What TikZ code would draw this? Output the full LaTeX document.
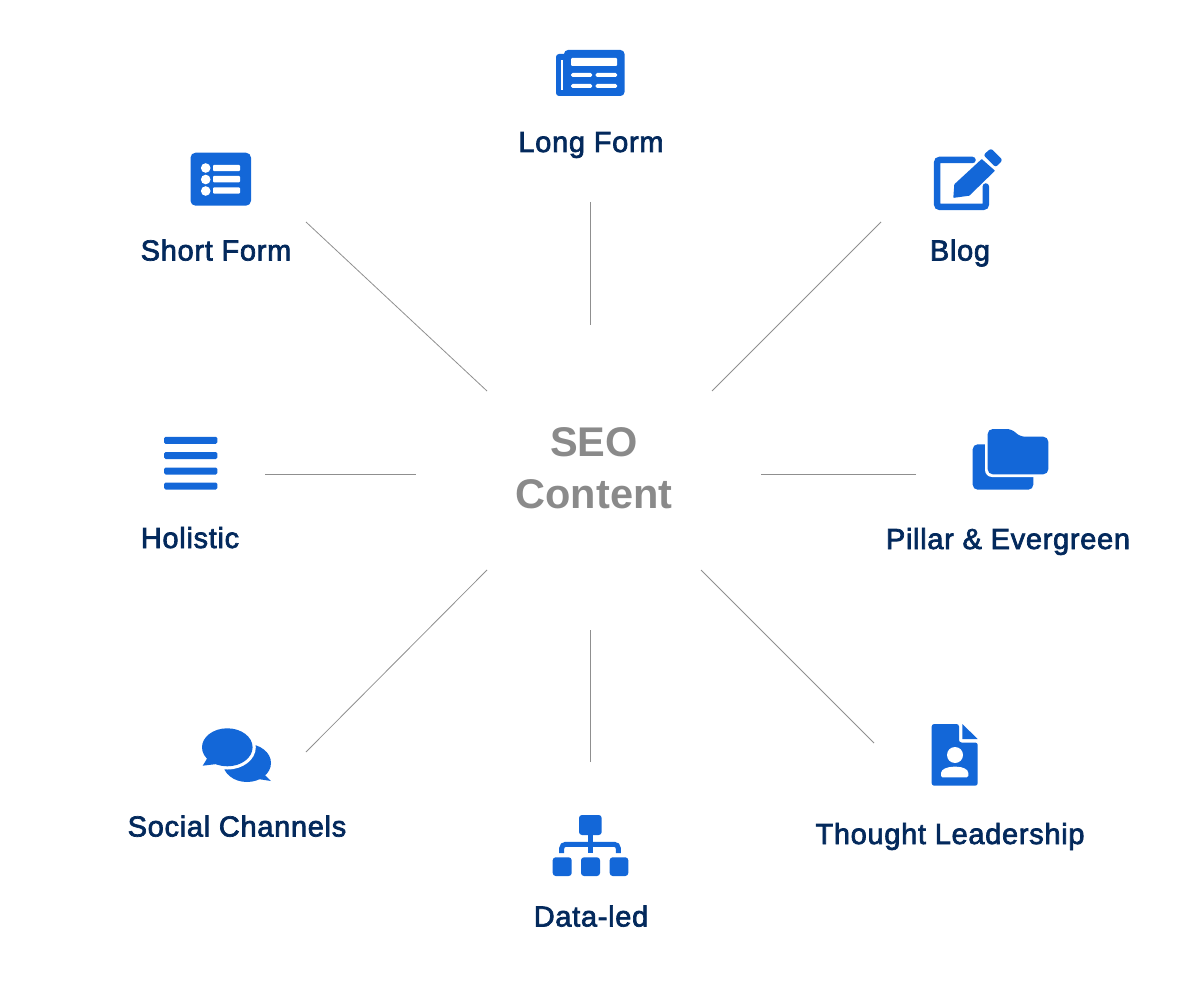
\documentclass[tikz,border=0pt]{standalone}
\usepackage{fontspec}
\setmainfont{Liberation Sans}
\newfontfamily\lblfont[FakeBold=2.4,LetterSpace=2.4]{Liberation Sans}
\newfontfamily\hubfont{Liberation Sans Bold}
\definecolor{iconblue}{HTML}{1367D8}
\definecolor{lblnavy}{HTML}{03295C}
\definecolor{hubgray}{HTML}{8A8A8A}
\definecolor{linegray}{HTML}{8F8F8F}
\tikzset{
  lbl/.style={anchor=base,text=lblnavy,inner sep=0pt,font=\lblfont\fontsize{29}{34}\selectfont},
  hub/.style={anchor=base,text=hubgray,inner sep=0pt,font=\hubfont\fontsize{41.5}{48}\selectfont},
  spoke/.style={draw=linegray,line width=0.8pt},
  ic/.style={fill=iconblue,draw=none},
  wh/.style={fill=white,draw=none}
}
\begin{document}
\begin{tikzpicture}[x=1pt,y=-1pt]
\useasboundingbox (0,0) rectangle (1200,1000);
% labels
\node[hub] (seo) at (594,456) {SEO};
\node[hub] (content) at (594,508.5) {Content};
\node[lbl] (longform) at (591,152) {Long Form};
\node[lbl] (shortform) at (216,260.5) {Short Form};
\node[lbl] (blog) at (960,260.5) {Blog};
\node[lbl] (holistic) at (190,548) {Holistic};
\node[lbl] (pillar) at (1008,549) {Pillar \& Evergreen};
\node[lbl] (thought) at (950,844) {Thought Leadership};
\node[lbl] (dataled) at (591,926.5) {Data-led};
\node[lbl] (social) at (237,836.5) {Social Channels};
% spokes
\coordinate (a1) at (590,202); \coordinate (a2) at (590,325);
\coordinate (b1) at (306,222); \coordinate (b2) at (487,391);
\coordinate (c1) at (881,222); \coordinate (c2) at (712,391);
\coordinate (d1) at (916,474.5); \coordinate (d2) at (761,474.5);
\coordinate (e1) at (874,743); \coordinate (e2) at (701,570);
\coordinate (f1) at (590,762); \coordinate (f2) at (590,630);
\coordinate (g1) at (306,752); \coordinate (g2) at (487,570);
\coordinate (h1) at (265,474.5); \coordinate (h2) at (416,474.5);
\draw[spoke] (a1)--(a2);
\draw[spoke] (b1)--(b2);
\draw[spoke] (c1)--(c2);
\draw[spoke] (d1)--(d2);
\draw[spoke] (e1)--(e2);
\draw[spoke] (f1)--(f2);
\draw[spoke] (g1)--(g2);
\draw[spoke] (h1)--(h2);
% long form icon
\fill[ic,rounded corners=3pt] (556,54) rectangle (575,96);
\fill[ic,rounded corners=4pt] (564,50) rectangle (624.5,96);
\fill[wh] (561.3,60) rectangle (563.3,90);
\fill[wh,rounded corners=1pt] (571,58) rectangle (617,66);
\fill[wh,rounded corners=1.5pt] (571,73) rectangle (592,77);
\fill[wh,rounded corners=1.5pt] (595.5,73) rectangle (617,77);
\fill[wh,rounded corners=1.5pt] (571,84) rectangle (592,88);
\fill[wh,rounded corners=1.5pt] (595.5,84) rectangle (617,88);
% short form icon
\fill[ic,rounded corners=5pt] (190.5,152.7) rectangle (251,205.7);
\foreach \yy in {168,179.5,191}{\fill[wh] (205.7,\yy) circle (4.8);}
\foreach \yy in {168,179.2,190.5}{\fill[wh,rounded corners=1pt] (213,\yy-3.2) rectangle (240,\yy+3.2);}
% blog icon
\draw[iconblue,line width=6.5pt,line cap=round,rounded corners=2.5pt] (972.5,160) -- (937.2,160) -- (937.2,206.8) -- (985.8,206.8) -- (985.8,186.5);
\fill[iconblue,rounded corners=0.6pt] (953.3,197.9) -- (954.3,184.3) -- (981.7,159) -- (995,170.7) -- (969.3,195.7) -- cycle;
\fill[iconblue,rounded corners=2.5pt] (983.3,155) -- (991,148.3) -- (1002.7,160) -- (995.7,167.3) -- cycle;
% pillar icon
\fill[ic,rounded corners=5pt] (972.7,444.3) rectangle (1033.3,489.7);
\fill[wh,rounded corners=7pt] (985,426) rectangle (1052,477);
\fill[ic,rounded corners=5pt] (987.7,429) -- (1011.7,429) -- (1020,436.7) -- (1048.3,436.7) -- (1048.3,474.3) -- (987.7,474.3) -- cycle;
% thought icon
\fill[ic,rounded corners=2.5pt] (931.7,724) -- (959,724) -- (959,742.5) -- (977.7,742.5) -- (977.7,785.7) -- (931.7,785.7) -- cycle;
\fill[iconblue] (962.3,724) -- (977.7,739) -- (962.3,739) -- cycle;
\fill[wh] (955,755) circle (8);
\fill[wh,rounded corners=1.5pt] (941,777.3) -- (941,774.5) .. controls (941,769) and (948,766.7) .. (955,766.7) .. controls (962,766.7) and (968.3,769) .. (968.3,774.5) -- (968.3,777.3) -- cycle;
% data-led icon
\fill[ic,rounded corners=3pt] (579,815) rectangle (601.7,835);
\fill[ic] (587.7,835) rectangle (592.7,853);
\draw[iconblue,line width=5pt,rounded corners=4pt] (561.7,853) -- (561.7,844.3) -- (618.3,844.3) -- (618.3,853);
\fill[ic,rounded corners=3pt] (552.7,857.3) rectangle (571.7,876);
\fill[ic,rounded corners=3pt] (581,857.3) rectangle (600,876);
\fill[ic,rounded corners=3pt] (609.7,857.3) rectangle (628.3,876);
% social icon
\fill[ic] (247,763) ellipse [x radius=24, y radius=19];
\fill[iconblue] (262,772) -- (271,781) -- (258,779) -- cycle;
\fill[wh] (227.3,747.3) ellipse [x radius=28.5, y radius=22.2];
\fill[ic] (227.3,747.3) ellipse [x radius=25.3, y radius=19];
\fill[iconblue] (208,757) -- (202.7,765.7) -- (217,764) -- cycle;
% holistic icon
\foreach \yy in {440.3,455.5,471,486}{\fill[ic,rounded corners=1.5pt] (164,\yy-3.5) rectangle (217.3,\yy+3.5);}
\end{tikzpicture}
\end{document}
